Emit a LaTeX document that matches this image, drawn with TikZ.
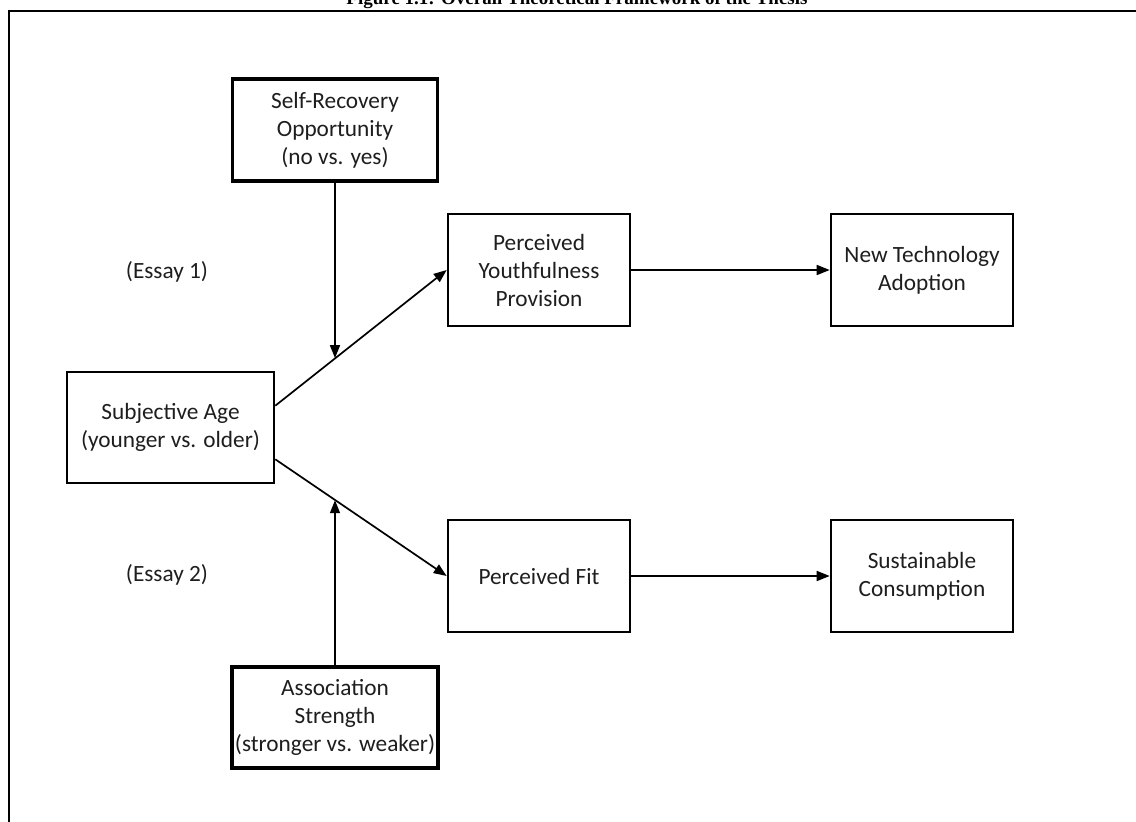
\documentclass[tikz,border=0pt]{standalone}
\usepackage{fontspec}
\setmainfont{Carlito}
\newfontfamily\titlefont{Liberation Serif}
\usetikzlibrary{arrows.meta,calc}
\definecolor{txt}{HTML}{1E1E1E}
\begin{document}
\begin{tikzpicture}[x=1pt,y=-1pt,
 box/.style={draw=black,line width=2.6pt,align=center,inner sep=0pt,text=txt,font=\fontsize{23.3}{28}\selectfont},
 modbox/.style={box,line width=3.2pt},
 conn/.style={line width=1.7pt,-{Triangle[length=13pt,width=10pt]}},
 lbl/.style={text=txt,font=\fontsize{23.3}{28}\selectfont}]
\useasboundingbox (0,0) rectangle (1136,822);
\fill[white] (0,0) rectangle (1136,822);
\node[font=\titlefont\bfseries\fontsize{19}{22}\selectfont, anchor=base, inner sep=0pt] (title) at (577,4) {Figure 1.1: Overall Theoretical Framework of the Thesis};
\draw[line width=2.6pt] (9,830) -- (9,11) -- (1145,11);

\node[modbox,minimum width=205pt,minimum height=102pt] (sr) at (335,130) {Self-Recovery\\Opportunity\\(no vs. yes)};
\node[box,minimum width=207pt,minimum height=111pt] (sa) at (170.5,427.5) {Subjective Age\\(younger vs. older)};
\node[box,minimum width=182pt,minimum height=112pt] (py) at (539,270) {Perceived\\Youthfulness\\Provision};
\node[box,minimum width=182pt,minimum height=112pt] (nt) at (922,270) {New Technology\\Adoption};
\node[box,minimum width=182pt,minimum height=112pt] (pf) at (539,576) {Perceived Fit};
\node[box,minimum width=182pt,minimum height=112pt] (sc) at (922,576) {Sustainable\\Consumption};
\node[modbox,minimum width=206pt,minimum height=101pt] (as) at (335,717.5) {Association\\Strength\\(stronger vs. weaker)};
\node[lbl] (e1) at (167,272) {(Essay 1)};
\node[lbl] (e2) at (167,575) {(Essay 2)};

\coordinate (sa1) at ($(sa.north east)+(0,35)$);
\coordinate (sa2) at ($(sa.south east)+(0,-25)$);
\draw[conn] (sa1) -- (py.west);
\draw[conn] (sa2) -- (pf.west);
\coordinate (m1) at ($(sa1)!0.3506!(py.west)$);
\coordinate (m2) at ($(sa2)!0.3506!(pf.west)$);
\draw[conn] (sr.south) -- (sr.south |- m1);
\draw[conn] (as.north) -- (as.north |- m2);
\draw[conn] (py.east) -- (nt.west);
\draw[conn] (pf.east) -- (sc.west);
\end{tikzpicture}
\end{document}
